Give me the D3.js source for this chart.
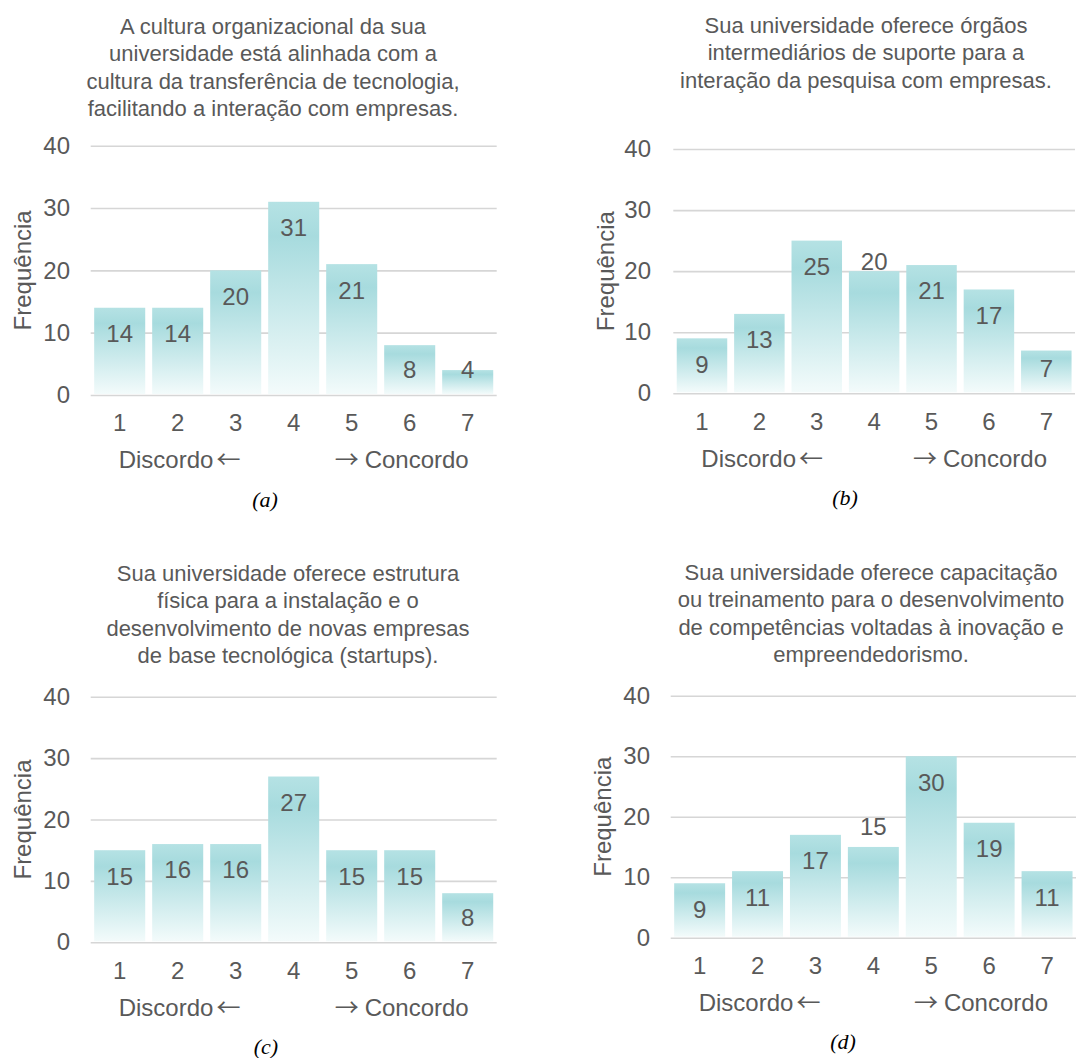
<!DOCTYPE html>
<html>
<head>
<meta charset="utf-8">
<script src="https://cdn.jsdelivr.net/npm/d3@7"></script>
<style>
  html, body { margin: 0; padding: 0; background: #fff; }
  svg { display: block; }
  text { font-family: "Liberation Sans", Arial, sans-serif; fill: #595959; }
  .panel-tag { font-family: "Liberation Serif", "Times New Roman", serif; font-style: italic; fill: #000; }
  .arrow { font-family: "Noto Sans CJK SC", "DejaVu Sans", sans-serif; }
</style>
</head>
<body>
<svg id="chart" width="1087" height="1058"></svg>
<script>
// Likert scale categories (1 = discordo ... 7 = concordo)
const categories = ["1", "2", "3", "4", "5", "6", "7"];
const yTicks = [0, 10, 20, 30, 40];

// Frequencies for each question
const valuesA = [14, 14, 20, 31, 21, 8, 4];
const valuesB = [9, 13, 25, 20, 21, 17, 7];
const valuesC = [15, 16, 16, 27, 15, 15, 8];
const valuesD = [9, 11, 17, 15, 30, 19, 11];

const titleA = ["A cultura organizacional da sua", "universidade está alinhada com a",
  "cultura da transferência de tecnologia,", "facilitando a interação com empresas."];
const titleB = ["Sua universidade oferece órgãos", "intermediários de suporte para a",
  "interação da pesquisa com empresas."];
const titleC = ["Sua universidade oferece estrutura", "física para a instalação e o",
  "desenvolvimento de novas empresas", "de base tecnológica (startups)."];
const titleD = ["Sua universidade oferece capacitação", "ou treinamento para o desenvolvimento",
  "de competências voltadas à inovação e", "empreendedorismo."];

const panelTags = ["(a)", "(b)", "(c)", "(d)"];
const yTitle = "Frequência";
const leftWord = "Discordo", leftArrow = "←";
const rightArrow = "→", rightWord = "Concordo";

// Layout of each small chart on the page
const panels = [
  { values: valuesA, title: titleA, tag: panelTags[0], x0: 90.7, x1: 496.7, yBase: 395, yTop: 145.7,
    titleX: 273, titleY: 26, tickRight: 70, yTitleX: 23, tagX: 265, outside: null },
  { values: valuesB, title: titleB, tag: panelTags[1], x0: 673.3, x1: 1075, yBase: 393.3, yTop: 149,
    titleX: 866, titleY: 25, tickRight: 651, yTitleX: 606, tagX: 845, outside: { index: 3, gap: 10 } },
  { values: valuesC, title: titleC, tag: panelTags[2], x0: 90.7, x1: 496.7, yBase: 942.3, yTop: 696.7,
    titleX: 288, titleY: 573, tickRight: 70, yTitleX: 23, tagX: 266, outside: null },
  { values: valuesD, title: titleD, tag: panelTags[3], x0: 670.7, x1: 1076, yBase: 937.7, yTop: 695.7,
    titleX: 871, titleY: 572, tickRight: 650, yTitleX: 603, tagX: 843, outside: { index: 3, gap: 20 } }
];

const svg = d3.select("#chart");

// Teal fading gradient used by every bar
const defs = svg.append("defs");
const grad = defs.append("linearGradient")
  .attr("id", "barFill").attr("x1", 0).attr("y1", 0).attr("x2", 0).attr("y2", 1);
grad.append("stop").attr("offset", "0%").attr("stop-color", "#b5e2e4");
grad.append("stop").attr("offset", "18%").attr("stop-color", "#a7dbde");
grad.append("stop").attr("offset", "100%").attr("stop-color", "#f3fbfb");

const titleSize = 22;
const axisSize = 24;

panels.forEach(p => {
  const g = svg.append("g");

  const x = d3.scaleBand().domain(categories).range([p.x0, p.x1])
    .paddingInner(0.12).paddingOuter(0.06);
  const y = d3.scaleLinear().domain([0, 40]).range([p.yBase, p.yTop]);

  // Title
  const lineH = 27.5;
  g.append("g").selectAll("text").data(p.title).join("text")
    .attr("x", p.titleX)
    .attr("y", (d, i) => p.titleY + i * lineH)
    .attr("dy", "0.35em")
    .attr("text-anchor", "middle")
    .style("font-size", titleSize + "px")
    .text(d => d);

  // Horizontal gridlines + y tick labels
  const yAxis = d3.axisLeft(y).tickValues(yTicks).tickSize(-(p.x1 - p.x0)).tickPadding(p.x0 - p.tickRight);
  const ya = g.append("g").attr("transform", `translate(${p.x0},0)`).call(yAxis);
  ya.select(".domain").remove();
  ya.selectAll(".tick line").attr("stroke", "#d6d6d6").attr("stroke-width", 1.6);
  ya.selectAll(".tick text").style("font-size", axisSize + "px")
    .style("font-family", "'Liberation Sans', Arial, sans-serif").attr("fill", "#595959");

  // Bars
  g.append("g").selectAll("rect").data(p.values).join("rect")
    .attr("x", (d, i) => x(categories[i]))
    .attr("width", x.bandwidth())
    .attr("y", d => y(d))
    .attr("height", d => y(0) - y(d) - 1)
    .attr("fill", "url(#barFill)");

  // Value labels
  g.append("g").selectAll("text").data(p.values).join("text")
    .attr("x", (d, i) => x(categories[i]) + x.bandwidth() / 2)
    .attr("y", (d, i) => {
      if (p.outside && p.outside.index === i) return y(d) - p.outside.gap;
      return Math.min(y(d) + 26, y(0) - 25);
    })
    .attr("dy", "0.35em")
    .attr("text-anchor", "middle")
    .style("font-size", axisSize + "px")
    .attr("fill", "#404040")
    .text(d => d);

  // Category axis
  const xAxis = d3.axisBottom(x).tickSize(0).tickPadding(0);
  const xa = g.append("g").attr("transform", `translate(0,${p.yBase + 28})`).call(xAxis);
  xa.select(".domain").remove();
  xa.selectAll(".tick text").attr("dy", "0.35em").style("font-size", axisSize + "px")
    .style("font-family", "'Liberation Sans', Arial, sans-serif").attr("fill", "#595959");

  // Scale direction notes
  const left = g.append("text").attr("x", p.x0 + 28).attr("y", p.yBase + 65).attr("dy", "0.35em")
    .style("font-size", axisSize + "px");
  left.append("tspan").text(leftWord);
  left.append("tspan").attr("class", "arrow").attr("dx", 3).text(leftArrow);

  const right = g.append("text").attr("x", p.x1 - 28).attr("y", p.yBase + 65).attr("dy", "0.35em")
    .attr("text-anchor", "end").style("font-size", axisSize + "px");
  right.append("tspan").attr("class", "arrow").text(rightArrow);
  right.append("tspan").attr("dx", 6).text(rightWord);

  // Y-axis title
  g.append("text")
    .attr("transform", `translate(${p.yTitleX},${(p.yBase + p.yTop) / 2}) rotate(-90)`)
    .attr("dy", "0.35em").attr("text-anchor", "middle")
    .style("font-size", axisSize + "px").text(yTitle);

  // Panel tag
  g.append("text").attr("class", "panel-tag")
    .attr("x", p.tagX).attr("y", p.yBase + 104).attr("dy", "0.35em")
    .attr("text-anchor", "middle").style("font-size", "22px").text(p.tag);
});
</script>
</body>
</html>
